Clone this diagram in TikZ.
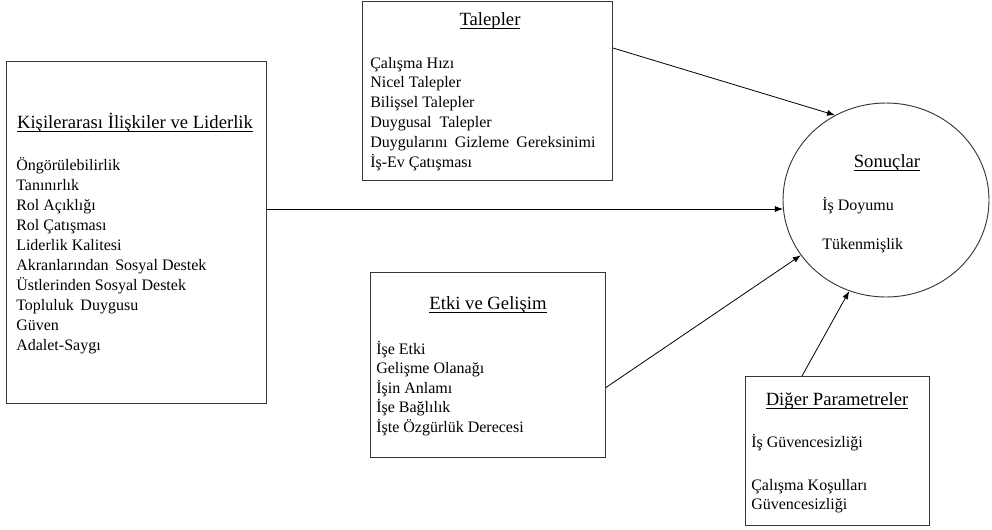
\documentclass[tikz,border=0pt]{standalone}
\usepackage{fontspec}
\setmainfont{Liberation Serif}
\usetikzlibrary{positioning,arrows.meta,shapes.geometric}
\definecolor{edge}{RGB}{55,55,55}
\newcommand{\baslik}[1]{\underline{\smash{#1}\rule[-1pt]{0pt}{1pt}}}

\begin{document}
\begin{tikzpicture}[x=0.75pt, y=-0.75pt, font=\fontsize{12}{14}\selectfont,
    box/.style={draw=edge, line width=0.7pt, inner sep=0pt, anchor=north west},
    head/.style={anchor=base, inner sep=0pt, font=\fontsize{14}{16}\selectfont},
    item/.style={anchor=base west, inner sep=0pt},
    arr/.style={-{Latex[length=6pt,width=4.5pt]}, line width=0.6pt}]
  \useasboundingbox (0,0) rectangle (992,529);
  % kutular
  \node[box, minimum width=195pt, minimum height=256.5pt] (kisi) at (6,61) {};
  \node[box, minimum width=187.5pt, minimum height=134.25pt] (talep) at (362,1) {};
  \node[box, minimum width=176.25pt, minimum height=138.75pt] (etki) at (370,272) {};
  \node[box, minimum width=138pt, minimum height=111.75pt] (diger) at (745,376) {};
  \node[draw=edge, ellipse, line width=0.7pt, inner sep=0pt, minimum width=154.5pt, minimum height=145.5pt] (sonuc) at (886,200) {};
  % basliklar
  \node[head] (kisiBaslik) at (135,128) {\baslik{Kişilerarası İlişkiler ve Liderlik}};
  \node[head] (talepBaslik) at (490,25) {\baslik{Talepler}};
  \node[head] (etkiBaslik) at (488,309) {\baslik{Etki ve Gelişim}};
  \node[head] (sonucBaslik) at (887,167) {\baslik{Sonuçlar}};
  \node[head] (digerBaslik) at (837,405) {\baslik{Diğer Parametreler}};
  % maddeler
  \foreach \t [count=\i from 0] in {Öngörülebilirlik, Tanınırlık, Rol Açıklığı, Rol Çatışması, Liderlik Kalitesi, Akranlarından\hspace{2pt} Sosyal Destek, Üstlerinden Sosyal Destek, Topluluk\hspace{2pt} Duygusu, Güven, Adalet-Saygı}
    \node[item] (kisi\i) at (16,170+20.1*\i) {\t};
  \foreach \t [count=\i from 0] in {Çalışma Hızı, Nicel Talepler, Bilişsel Talepler, Duygusal\hspace{3pt} Talepler, Duygularını\hspace{2.5pt} Gizleme\hspace{2.5pt} Gereksinimi, İş-Ev Çatışması}
    \node[item] (talep\i) at (370,68+19.8*\i) {\t};
  \foreach \t [count=\i from 0] in {İşe Etki, Gelişme Olanağı, İşin Anlamı, İşe Bağlılık, İşte Özgürlük Derecesi}
    \node[item] (etki\i) at (376,354+19.6*\i) {\t};
  \node[item] (doyum) at (822,210) {İş Doyumu};
  \node[item] (tukenmis) at (822,249) {Tükenmişlik};
  \node[item] (guven1) at (751,447) {İş Güvencesizliği};
  \node[item] (guven2) at (751,490) {Çalışma Koşulları};
  \node[item] (guven3) at (751,509) {Güvencesizliği};
  % oklar
  \draw[arr] (kisi.east |- sonuc.185) -- (sonuc.185);
  \draw[arr] ([yshift=-35.25pt]talep.north east) -- (sonuc.121);
  \draw[arr] ([yshift=-16.9pt]etki.east) -- (sonuc.213);
  \draw[arr] ([xshift=42.75pt]diger.north west) -- (sonuc.248);
\end{tikzpicture}
\end{document}
